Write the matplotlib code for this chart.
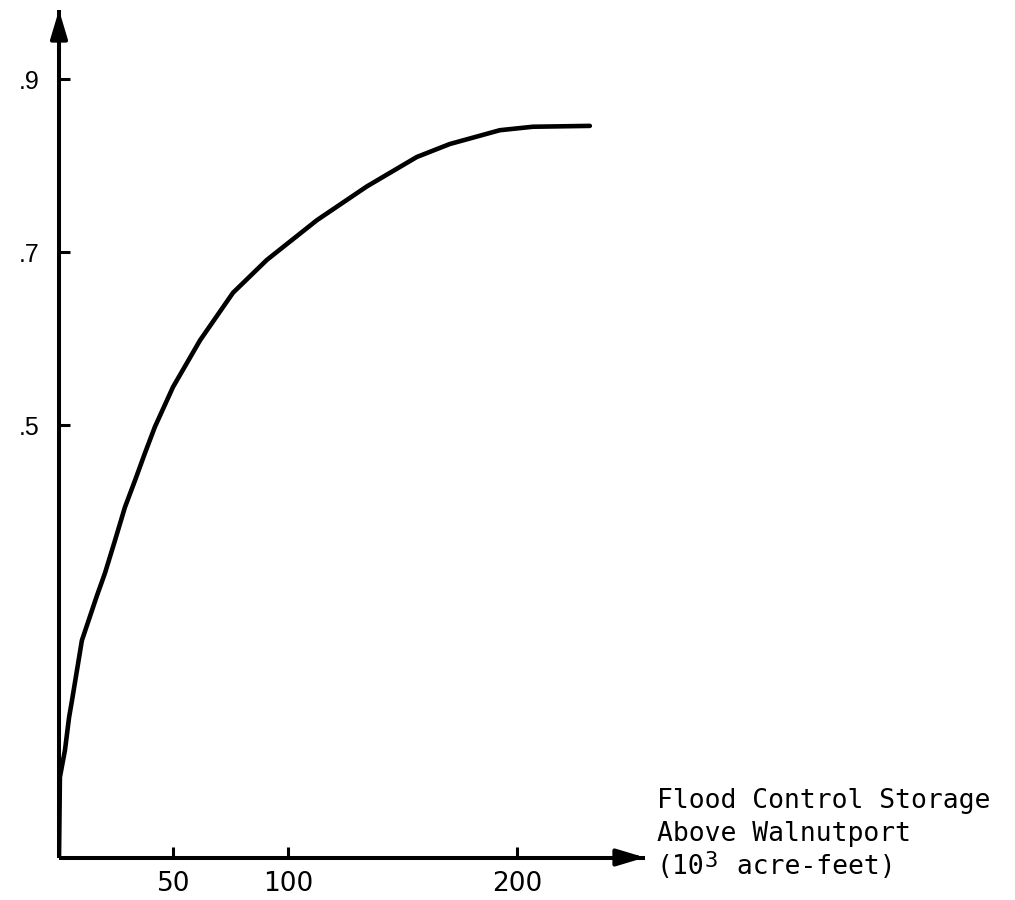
import matplotlib
matplotlib.use("Agg")
import matplotlib.pyplot as plt
from matplotlib.transforms import offset_copy

# flood control storage above Walnutport (10^3 acre-feet) vs. ratio
storage = [0, 0.4, 2.6, 4.4, 5.7, 10.0, 16.6, 20.1, 24.5, 28.8, 33.2,
           37.6, 41.9, 49.8, 61.6, 76.0, 90.8, 112.7, 134.5, 156.3,
           170.7, 192.6, 207.0, 231.9]
ratio = [0.0, 0.093, 0.124, 0.162, 0.182, 0.251, 0.303, 0.329, 0.367,
         0.405, 0.436, 0.468, 0.498, 0.544, 0.598, 0.653, 0.691, 0.737,
         0.776, 0.810, 0.825, 0.841, 0.845, 0.846]

x_ticks = [50, 100, 200]
x_labels = ['50', '100', '200']
y_ticks = [0.5, 0.7, 0.9]
y_labels = ['.5', '.7', '.9']

label_lines = ["Flood Control Storage", "Above Walnutport"]

fig = plt.figure(figsize=(10.15, 9), dpi=100)
ax = fig.add_axes([59/1015, 1 - 857.5/900, 586/1015, 847.5/900])

ax.plot(storage, ratio, color='black', lw=3.3, solid_capstyle='round',
        solid_joinstyle='round')

ax.set_xlim(0, 256)
ax.set_ylim(0, 0.98)

for side in ['top', 'right']:
    ax.spines[side].set_visible(False)
for side in ['left', 'bottom']:
    ax.spines[side].set_linewidth(2.9)
    ax.spines[side].set_capstyle('butt')

# arrow heads at the ends of both axes
arrow = dict(arrowstyle='-|>,head_length=1.0,head_width=0.3', color='black',
             lw=2.9, shrinkA=0, shrinkB=0, mutation_scale=17)
ax.annotate('', xy=(0, 1.0), xytext=(0, 0.95), xycoords='axes fraction',
            arrowprops=arrow, annotation_clip=False)
ax.annotate('', xy=(1.0, 0), xytext=(0.95, 0), xycoords='axes fraction',
            arrowprops=arrow, annotation_clip=False)

ax.set_xticks(x_ticks)
ax.set_xticklabels(x_labels, family=['Liberation Sans Narrow', 'DejaVu Sans'])
ax.set_yticks(y_ticks)
ax.set_yticklabels(y_labels, family=['Liberation Sans', 'DejaVu Sans'])
ax.tick_params(axis='x', direction='in', length=8, width=2.2, pad=10, labelsize=19)
ax.tick_params(axis='y', direction='in', length=8, width=2.2, pad=14, labelsize=18)

# axis caption in typewriter style
fs = 19
cw = 0.602 * fs  # monospace advance in points
tx = 657 / 1015
for i, line in enumerate(label_lines):
    fig.text(tx, 1 - (808 + 33 * i) / 900, line, family='DejaVu Sans Mono',
             fontsize=fs, va='baseline', ha='left')
y3 = 1 - 874 / 900
fig.text(tx, y3, "(10", family='DejaVu Sans Mono', fontsize=fs, va='baseline')
fig.text(tx, y3, "3", family='DejaVu Sans Mono', fontsize=fs - 3, va='baseline',
         transform=offset_copy(fig.transFigure, fig=fig, x=3 * cw, y=5, units='points'))
fig.text(tx, y3, " acre-feet)", family='DejaVu Sans Mono', fontsize=fs, va='baseline',
         transform=offset_copy(fig.transFigure, fig=fig, x=4 * cw, y=0, units='points'))

fig.savefig('out.png', dpi=100, facecolor='white')
